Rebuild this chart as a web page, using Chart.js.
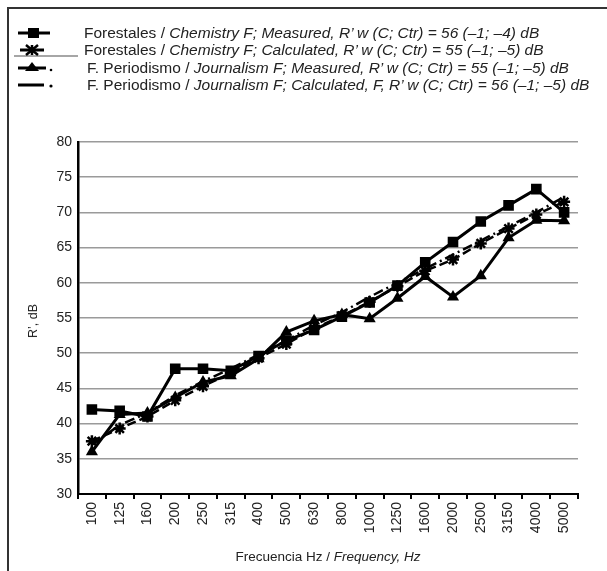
<!DOCTYPE html>
<html>
<head>
<meta charset="utf-8">
<script src="https://cdn.jsdelivr.net/npm/chart.js@4"></script>
<style>
  html, body { margin: 0; padding: 0; background: #fff; }
  #wrap { position: relative; width: 607px; height: 571px; overflow: hidden; font-family: "Liberation Sans", Arial, sans-serif; color: #222; }
  #frame { position: absolute; left: 7px; top: 7px; width: 700px; height: 700px; border-left: 2px solid #333; border-top: 2px solid #333; }
  canvas { position: absolute; left: 0; top: 0; }
  .leg { position: absolute; left: 0; font-size: 15.5px; white-space: nowrap; line-height: 18px; }
  .leg svg { position: absolute; left: 14px; top: -1px; }
  .leg span.t { position: absolute; white-space: nowrap; }
  i { font-style: italic; }
  #xtitle { position: absolute; top: 549px; left: 0; width: 656px; text-align: center; font-size: 13.5px; }
  #ytitle { position: absolute; left: 33px; top: 321px; transform: translate(-50%, -50%) rotate(-90deg); font-size: 12.5px; white-space: nowrap; }
</style>
</head>
<body>
<div id="wrap">
  <div id="frame"></div>
  <canvas id="c" width="607" height="571"></canvas>
  <div class="leg" style="top:24px;">
    <svg width="64" height="20"><line x1="4" y1="10" x2="36" y2="10" stroke="#000" stroke-width="3"/><rect x="14" y="5" width="11" height="10" fill="#000"/></svg>
    <span class="t" style="left:84px;">Forestales / <i>Chemistry F; Measured, R’ w (C; Ctr) = 56 (–1; –4) dB</i></span>
  </div>
  <div class="leg" style="top:41px;">
    <svg width="64" height="20"><line x1="-2" y1="16" x2="64" y2="16" stroke="#888" stroke-width="1.5"/><line x1="6" y1="10" x2="30" y2="10" stroke="#000" stroke-width="3"/><path d="M12 5 L24 15 M24 5 L12 15 M18 5 L18 15" stroke="#000" stroke-width="2.5"/></svg>
    <span class="t" style="left:84px;">Forestales / <i>Chemistry F; Calculated, R’ w (C; Ctr) = 55 (–1; –5) dB</i></span>
  </div>
  <div class="leg" style="top:59px;">
    <svg width="64" height="20"><line x1="4" y1="10" x2="32" y2="10" stroke="#000" stroke-width="3"/><path d="M11 13 L18 4 L25 13 Z" fill="#000"/><circle cx="37" cy="12" r="1.3" fill="#000"/></svg>
    <span class="t" style="left:87px;">F. Periodismo / <i>Journalism F; Measured, R’ w (C; Ctr) = 55 (–1; –5) dB</i></span>
  </div>
  <div class="leg" style="top:76px;">
    <svg width="64" height="20"><line x1="4" y1="10" x2="30" y2="10" stroke="#000" stroke-width="3"/><circle cx="37" cy="11" r="1.6" fill="#000"/></svg>
    <span class="t" style="left:87px;">F. Periodismo / <i>Journalism F; Calculated, F, R’ w (C; Ctr) = 56 (–1; –5) dB</i></span>
  </div>
  <div id="ytitle">R’, dB</div>
  <div id="xtitle">Frecuencia Hz / <i>Frequency, Hz</i></div>
</div>
<script>
const categories = ['100','125','160','200','250','315','400','500','630','800','1000','1250','1600','2000','2500','3150','4000','5000'];
const chemistryMeasured   = [42.0, 41.8, 41.0, 47.8, 47.8, 47.5, 49.6, 51.8, 53.3, 55.2, 57.2, 59.6, 62.9, 65.8, 68.7, 71.0, 73.3, 70.0];
const chemistryCalculated = [37.5, 39.3, 41.0, 43.3, 45.3, 47.2, 49.3, 51.3, 53.5, 55.3, 57.3, 59.5, 61.7, 63.3, 65.6, 67.7, 69.7, 71.5];
const journalismMeasured  = [36.0, 41.3, 41.5, 43.7, 45.9, 46.8, 49.2, 53.0, 54.6, 55.5, 54.9, 57.8, 60.9, 58.0, 61.0, 66.4, 68.9, 68.8];
const journalismCalculated= [37.0, 39.8, 41.5, 44.0, 46.0, 47.8, 49.8, 51.8, 54.0, 55.8, 58.0, 60.0, 62.0, 64.0, 66.0, 68.0, 70.0, 72.2];
const yTicks = { min: 30, max: 80, step: 5 };

new Chart(document.getElementById('c'), {
  type: 'line',
  data: {
    labels: categories,
    datasets: [
      { label: 'chemMeas', data: chemistryMeasured, borderColor: '#000', backgroundColor: '#000', borderWidth: 3,
        pointStyle: 'rect', pointRadius: 7.5, pointBorderWidth: 0, tension: 0 },
      { label: 'chemCalc', data: chemistryCalculated, borderColor: '#000', backgroundColor: '#000', borderWidth: 2.5,
        borderDash: [9, 4], pointStyle: 'star', pointRadius: 6, pointBorderWidth: 2.5, tension: 0 },
      { label: 'jourMeas', data: journalismMeasured, borderColor: '#000', backgroundColor: '#000', borderWidth: 3,
        pointStyle: 'triangle', pointRadius: 7, pointBorderWidth: 0, tension: 0 },
      { label: 'jourCalc', data: journalismCalculated, borderColor: '#000', backgroundColor: '#000', borderWidth: 2.5,
        borderDash: [10, 4, 2, 4], pointRadius: 0, tension: 0 }
    ]
  },
  options: {
    responsive: false,
    animation: false,
    layout: { padding: { left: 0, right: 29, top: 142, bottom: 0 } },
    plugins: { legend: { display: false }, tooltip: { enabled: false } },
    scales: {
      x: {
        type: 'category',
        offset: true,
        grid: { display: true, offset: true, drawOnChartArea: false, drawTicks: true, tickLength: 5, color: '#000', lineWidth: 2 },
        border: { display: true, color: '#000', width: 2 },
        ticks: { color: '#222', font: { family: 'Liberation Sans', size: 14 }, minRotation: 90, maxRotation: 90, padding: 3, autoSkip: false },
        afterFit: (s) => { s.height = 77; }
      },
      y: {
        min: yTicks.min, max: yTicks.max,
        grid: { color: '#9a9a9a', lineWidth: 1.5, drawTicks: false },
        border: { display: true, color: '#000', width: 2.5 },
        ticks: { stepSize: yTicks.step, color: '#222', font: { family: 'Liberation Sans', size: 14 }, padding: 6 },
        afterFit: (s) => { s.width = 78; }
      }
    }
  }
});
</script>
</body>
</html>
